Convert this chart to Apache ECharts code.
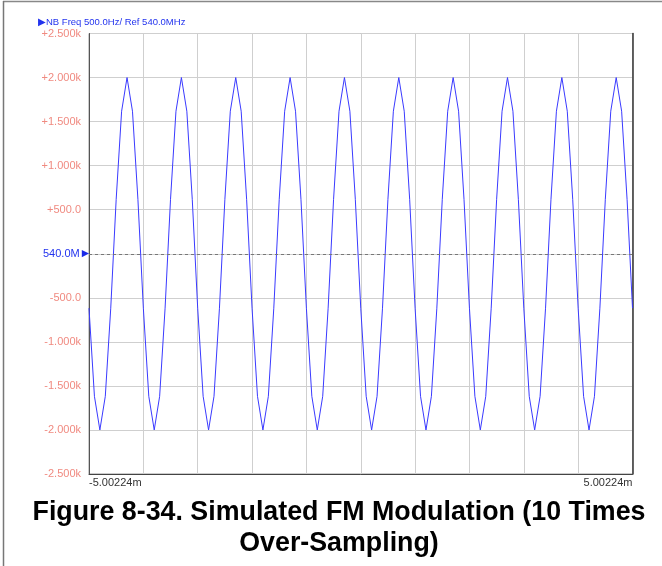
<!DOCTYPE html>
<html>
<head>
<meta charset="utf-8">
<script src="https://cdn.jsdelivr.net/npm/echarts@6/dist/echarts.min.js"></script>
<style>
html,body{margin:0;padding:0;background:#fff;}
#chart{width:662px;height:566px;}
</style>
</head>
<body>
<div id="chart"></div>
<script>
// ---- Data ----
var X_MIN_MS = -5.00224;
var X_MAX_MS = 5.00224;
var X_DIV_MS = 1.000448;           // one vertical grid division
var SAMPLE_STEP_MS = 0.1000448;    // 10 samples per modulation period (10x over-sampling)

// Frequency deviation samples (Hz), one per sample clock
var deviationHz = [
  -618, -1618, -2000, -1618, -618, 618, 1618, 2000, 1618, 618,
  -618, -1618, -2000, -1618, -618, 618, 1618, 2000, 1618, 618,
  -618, -1618, -2000, -1618, -618, 618, 1618, 2000, 1618, 618,
  -618, -1618, -2000, -1618, -618, 618, 1618, 2000, 1618, 618,
  -618, -1618, -2000, -1618, -618, 618, 1618, 2000, 1618, 618,
  -618, -1618, -2000, -1618, -618, 618, 1618, 2000, 1618, 618,
  -618, -1618, -2000, -1618, -618, 618, 1618, 2000, 1618, 618,
  -618, -1618, -2000, -1618, -618, 618, 1618, 2000, 1618, 618,
  -618, -1618, -2000, -1618, -618, 618, 1618, 2000, 1618, 618,
  -618, -1618, -2000, -1618, -618, 618, 1618, 2000, 1618, 618,
  -618
];

var yTickValues = [2500, 2000, 1500, 1000, 500, 0, -500, -1000, -1500, -2000, -2500];
var yTickLabels = ['+2.500k', '+2.000k', '+1.500k', '+1.000k', '+500.0', '540.0M',
                   '-500.0', '-1.000k', '-1.500k', '-2.000k', '-2.500k'];
var xEndLabels = ['-5.00224m', '5.00224m'];

var headerText = '\u25B6NB Freq 500.0Hz/ Ref 540.0MHz';
var captionLines = ['Figure 8-34. Simulated FM Modulation (10 Times', 'Over-Sampling)'];

// ---- Build series ----
var seriesData = deviationHz.map(function (v, i) {
  return [X_MIN_MS + i * SAMPLE_STEP_MS, v];
});

var chart = echarts.init(document.getElementById('chart'), null, {renderer: 'canvas'});

var option = {
  animation: false,
  backgroundColor: '#ffffff',
  grid: {
    left: 89, top: 33.5, width: 543.5, height: 440.5,
    show: true, borderColor: '#999', borderWidth: 1, backgroundColor: 'transparent'
  },
  title: [
    {
      text: headerText, left: 33, top: 12,
      textStyle: {fontFamily: 'Liberation Sans', fontSize: 9.5, fontWeight: 'normal', color: '#2233ee'}
    },
    {
      text: captionLines.join('\n'), left: 334, top: 492, textAlign: 'center',
      textStyle: {fontFamily: 'Liberation Sans', fontSize: 26.8, fontWeight: 'bold', color: '#000', lineHeight: 31}
    }
  ],
  xAxis: {
    type: 'value', min: X_MIN_MS, max: X_MAX_MS, interval: X_DIV_MS,
    axisLine: {show: true, onZero: false, lineStyle: {color: '#444', width: 1}},
    axisTick: {show: false},
    splitLine: {show: true, lineStyle: {color: '#cfcfcf', width: 1}},
    axisLabel: {
      show: true, margin: 3,
      fontFamily: 'Liberation Sans', fontSize: 11, color: '#333',
      alignMinLabel: 'left', alignMaxLabel: 'right',
      formatter: function (v) {
        if (Math.abs(v - X_MIN_MS) < 1e-6) return xEndLabels[0];
        if (Math.abs(v - X_MAX_MS) < 1e-6) return xEndLabels[1];
        return '';
      }
    }
  },
  yAxis: [
    {
      type: 'value', min: -2500, max: 2500, interval: 500,
      axisLine: {show: true, onZero: false, lineStyle: {color: '#555', width: 1}},
      axisTick: {show: false},
      splitLine: {show: true, lineStyle: {color: '#cfcfcf', width: 1}},
      axisLabel: {
        show: true, margin: 0,
        formatter: function (v) {
          var idx = yTickValues.indexOf(v);
          var s = idx >= 0 ? yTickLabels[idx] : '';
          if (v === 0) return '{z|' + s + '}{t|\u25B6}';
          return '{n|' + s + '}';
        },
        rich: {
          n: {fontFamily: 'Liberation Sans', fontSize: 11, color: '#f08a80', padding: [0, 8, 0, 0]},
          z: {fontFamily: 'Liberation Sans', fontSize: 11, color: '#2233ee', padding: [0, 2, 0, 0]},
          t: {fontFamily: 'DejaVu Sans', fontSize: 9.5, color: '#1a2ae8'}
        }
      }
    },
    {
      type: 'value', min: -2500, max: 2500, position: 'right',
      axisLine: {show: true, onZero: false, lineStyle: {color: '#333', width: 1.5}},
      axisTick: {show: false}, axisLabel: {show: false}, splitLine: {show: false}
    }
  ],
  series: [
    {
      type: 'line',
      data: seriesData,
      showSymbol: false,
      symbol: 'none',
      smooth: false,
      clip: true,
      lineStyle: {color: '#3a3aff', width: 1},
      markLine: {
        silent: true,
        symbol: ['none', 'none'],
        label: {show: false},
        lineStyle: {color: '#777', type: [3, 3], width: 1},
        data: [{yAxis: 0}]
      }
    }
  ],
  graphic: [
    {type: 'line', shape: {x1: 3, y1: 1.5, x2: 662, y2: 1.5}, style: {stroke: '#888', lineWidth: 1.5}},
    {type: 'line', shape: {x1: 3.5, y1: 1, x2: 3.5, y2: 566}, style: {stroke: '#777', lineWidth: 1.5}}
  ]
};

chart.setOption(option);
</script>
</body>
</html>
